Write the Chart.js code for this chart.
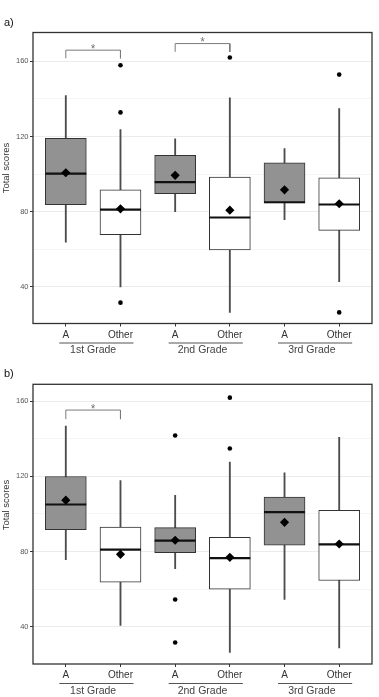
<!DOCTYPE html>
<html>
<head>
<meta charset="utf-8">
<script src="https://cdn.jsdelivr.net/npm/chart.js@4.4.1/dist/chart.umd.min.js"></script>
<style>
  html, body { margin: 0; padding: 0; background: #fff; }
  #wrap { position: relative; width: 379px; height: 697px; }
  canvas { position: absolute; left: 0; }
  #graficaA { top: 0; }
  #graficaB { top: 358px; }
</style>
</head>
<body>
<div id="wrap">
  <canvas id="graficaA" width="379" height="358" style="width:379px;height:358px"></canvas>
  <canvas id="graficaB" width="379" height="339" style="width:379px;height:339px"></canvas>
</div>
<script>
// categories
const posiciones = [1, 2, 3, 4, 5, 6];
const etiquetas = ['A', 'Other', 'A', 'Other', 'A', 'Other'];
const grupos = ['1st Grade', '2nd Grade', '3rd Grade'];
const posGrupos = [1.5, 3.5, 5.5];
const rellenos = ['#929292', '#ffffff', '#929292', '#ffffff', '#929292', '#ffffff'];
const yTicks = [40, 60, 80, 100, 120, 140, 160];

// panel a)
const aQ1 = [83.7, 67.7, 89.5, 59.7, 84.7, 70.0];
const aQ3 = [119.0, 91.6, 109.9, 98.4, 106.0, 98.0];
const aMed = [100.2, 81.1, 95.7, 76.9, 85.0, 83.8];
const aMean = [100.7, 81.5, 99.3, 80.8, 91.6, 84.2];
const aLo = [63.7, 40.0, 80.0, 26.4, 75.7, 42.8];
const aHi = [141.7, 123.6, 118.8, 140.6, 113.5, 134.8];
const aOutX = [2, 2, 2, 4, 6, 6];
const aOutY = [157.9, 132.8, 31.6, 162.0, 152.9, 26.4];
const aSigDesde = [1, 3];
const aSigHasta = [2, 4];
const aSigTop = [165.9, 169.4];
const aSigPie = [161.6, 165.0];

// panel b)
const bQ1 = [91.6, 63.7, 79.4, 60.0, 83.4, 64.6];
const bQ3 = [119.9, 93.0, 92.7, 87.5, 109.0, 101.9];
const bMed = [105.0, 81.0, 85.8, 76.5, 100.9, 83.8];
const bMean = [107.3, 78.5, 86.0, 76.9, 95.5, 84.0];
const bLo = [75.7, 40.7, 70.9, 26.4, 54.5, 28.8];
const bHi = [146.7, 117.7, 109.9, 127.5, 121.8, 140.7];
const bOutX = [3, 3, 3, 4, 4];
const bOutY = [141.7, 54.5, 31.6, 161.8, 134.8];
const bSigDesde = [1];
const bSigHasta = [2];
const bSigTop = [155.2];
const bSigPie = [150.4];

const fuente = "'Liberation Sans', Arial, sans-serif";

// frame, underlines under the groups, asterisks, panel letter, y title
const extrasPlugin = {
    id: 'extras',
    afterDraw(chart, args, opts) {
        const ctx = chart.ctx;
        const area = chart.chartArea;
        const x = chart.scales.x;
        const y = chart.scales.y;
        ctx.save();

        ctx.strokeStyle = '#333';
        ctx.lineWidth = 1.3;
        ctx.strokeRect(area.left, area.top, area.right - area.left, area.bottom - area.top);

        ctx.strokeStyle = '#555';
        ctx.lineWidth = 1.2;
        posGrupos.forEach(g => {
            const x0 = x.getPixelForValue(g - 0.5) - 6.5;
            const x1 = x.getPixelForValue(g + 0.5) + 13;
            ctx.beginPath();
            ctx.moveTo(x0, x.bottom + 0.5);
            ctx.lineTo(x1, x.bottom + 0.5);
            ctx.stroke();
        });

        ctx.fillStyle = '#777';
        ctx.font = '12px ' + fuente;
        ctx.textAlign = 'center';
        ctx.textBaseline = 'alphabetic';
        opts.desde.forEach((d, i) => {
            const cx = x.getPixelForValue((d + opts.hasta[i]) / 2);
            const cy = y.getPixelForValue(opts.top[i]);
            ctx.fillText('*', cx, cy + 2.5);
        });

        ctx.fillStyle = '#111';
        ctx.font = '11px ' + fuente;
        ctx.textAlign = 'left';
        ctx.textBaseline = 'middle';
        ctx.fillText(opts.letra, 4, opts.letraY);

        ctx.fillStyle = '#333';
        ctx.font = '9.5px ' + fuente;
        ctx.translate(6, opts.tituloY);
        ctx.rotate(-Math.PI / 2);
        ctx.textAlign = 'center';
        ctx.fillText('Total scores', 0, 0);
        ctx.restore();
    }
};

function sinPadding(s) {
    s.paddingLeft = 0;
    s.paddingRight = 0;
}

function crearPanel($canvas, d) {
    const corchetes = d.sigDesde.map((a, i) => ({
        type: 'scatter',
        label: 'sig',
        data: [
            {x: a, y: d.sigPie[i]},
            {x: a, y: d.sigTop[i]},
            {x: d.sigHasta[i], y: d.sigTop[i]},
            {x: d.sigHasta[i], y: d.sigPie[i]}
        ],
        showLine: true,
        borderColor: '#7a7a7a',
        borderWidth: 1,
        pointRadius: 0,
        order: 3
    }));

    new Chart($canvas, {
        type: 'bar',
        data: {
            datasets: [
                {
                    type: 'scatter',
                    label: 'outliers',
                    data: d.outX.map((v, i) => ({x: v, y: d.outY[i]})),
                    pointStyle: 'circle',
                    pointRadius: 2.3,
                    pointBackgroundColor: '#000',
                    pointBorderWidth: 0,
                    order: 0
                },
                {
                    type: 'scatter',
                    label: 'mean',
                    data: posiciones.map((v, i) => ({x: v, y: d.mean[i]})),
                    pointStyle: 'rectRot',
                    pointRadius: 4.6,
                    pointBackgroundColor: '#000',
                    pointBorderWidth: 0,
                    order: 1
                },
                {
                    type: 'scatter',
                    label: 'median',
                    data: posiciones.map((v, i) => ({x: v, y: d.med[i]})),
                    pointStyle: 'line',
                    pointRadius: 20.5,
                    pointBorderColor: '#111',
                    pointBorderWidth: 2.2,
                    order: 2
                },
                ...corchetes,
                {
                    type: 'bar',
                    label: 'box',
                    data: posiciones.map((v, i) => ({x: v, y: [d.q1[i], d.q3[i]]})),
                    backgroundColor: rellenos,
                    borderColor: '#333',
                    borderWidth: 1,
                    borderSkipped: false,
                    barThickness: 41,
                    grouped: false,
                    order: 4
                },
                {
                    type: 'bar',
                    label: 'whisker',
                    data: posiciones.map((v, i) => ({x: v, y: [d.lo[i], d.hi[i]]})),
                    backgroundColor: '#4d4d4d',
                    barThickness: 1.2,
                    grouped: false,
                    order: 5
                }
            ]
        },
        options: {
            responsive: false,
            animation: false,
            events: [],
            layout: {autoPadding: false, padding: {top: d.padTop, right: 7, bottom: 0, left: 0}},
            plugins: {
                legend: {display: false},
                tooltip: {enabled: false},
                extras: {
                    desde: d.sigDesde,
                    hasta: d.sigHasta,
                    top: d.sigTop,
                    letra: d.letra,
                    letraY: d.letraY,
                    tituloY: d.tituloY
                }
            },
            scales: {
                x: {
                    type: 'linear',
                    position: 'bottom',
                    weight: 1,
                    min: 0.4,
                    max: 6.6,
                    offset: false,
                    border: {display: false},
                    grid: {offset: false, drawOnChartArea: false, drawTicks: true, tickLength: 3, tickColor: '#333'},
                    afterBuildTicks: s => { s.ticks = posiciones.map(v => ({value: v})); },
                    afterFit: s => { s.height = 19; sinPadding(s); },
                    ticks: {
                        autoSkip: false,
                        maxRotation: 0,
                        padding: 2.5,
                        color: '#333',
                        font: {size: 10, family: fuente},
                        callback: (v, i) => etiquetas[i]
                    }
                },
                xg: {
                    type: 'linear',
                    position: 'bottom',
                    weight: 2,
                    min: 0.4,
                    max: 6.6,
                    offset: false,
                    border: {display: false},
                    grid: {display: false, drawTicks: false, tickLength: 0, offset: false},
                    afterBuildTicks: s => { s.ticks = posGrupos.map(v => ({value: v})); },
                    afterFit: s => { s.height = d.altoGrupo; sinPadding(s); },
                    ticks: {
                        autoSkip: false,
                        maxRotation: 0,
                        padding: 1.5,
                        color: '#444',
                        font: {size: 10.5, family: fuente},
                        callback: (v, i) => grupos[i]
                    }
                },
                y: {
                    type: 'linear',
                    min: d.yMin,
                    max: d.yMax,
                    border: {display: false},
                    afterBuildTicks: s => { s.ticks = yTicks.map(v => ({value: v})); },
                    afterFit: s => { s.width = 33; },
                    grid: {
                        drawTicks: true,
                        tickLength: 3,
                        color: c => c.tick && c.tick.value % 40 === 0 ? '#ebebeb' : '#f5f5f5',
                        tickColor: c => c.tick && c.tick.value % 40 === 0 ? '#333' : 'rgba(0,0,0,0)'
                    },
                    ticks: {
                        padding: 1.5,
                        color: '#555',
                        font: {size: 7.5, family: fuente},
                        callback: v => v % 40 === 0 ? v : ''
                    }
                }
            }
        },
        plugins: [extrasPlugin]
    });
}

const $graficaA = document.querySelector('#graficaA');
crearPanel($graficaA, {
    q1: aQ1, q3: aQ3, med: aMed, mean: aMean, lo: aLo, hi: aHi,
    outX: aOutX, outY: aOutY,
    sigDesde: aSigDesde, sigHasta: aSigHasta, sigTop: aSigTop, sigPie: aSigPie,
    yMin: 20.5, yMax: 175.3, padTop: 32.5, altoGrupo: 15.5,
    letra: 'a)', letraY: 23, tituloY: 168
});

const $graficaB = document.querySelector('#graficaB');
crearPanel($graficaB, {
    q1: bQ1, q3: bQ3, med: bMed, mean: bMean, lo: bLo, hi: bHi,
    outX: bOutX, outY: bOutY,
    sigDesde: bSigDesde, sigHasta: bSigHasta, sigTop: bSigTop, sigPie: bSigPie,
    yMin: 20.2, yMax: 168.9, padTop: 26.3, altoGrupo: 14,
    letra: 'b)', letraY: 16, tituloY: 147
});
</script>
</body>
</html>
